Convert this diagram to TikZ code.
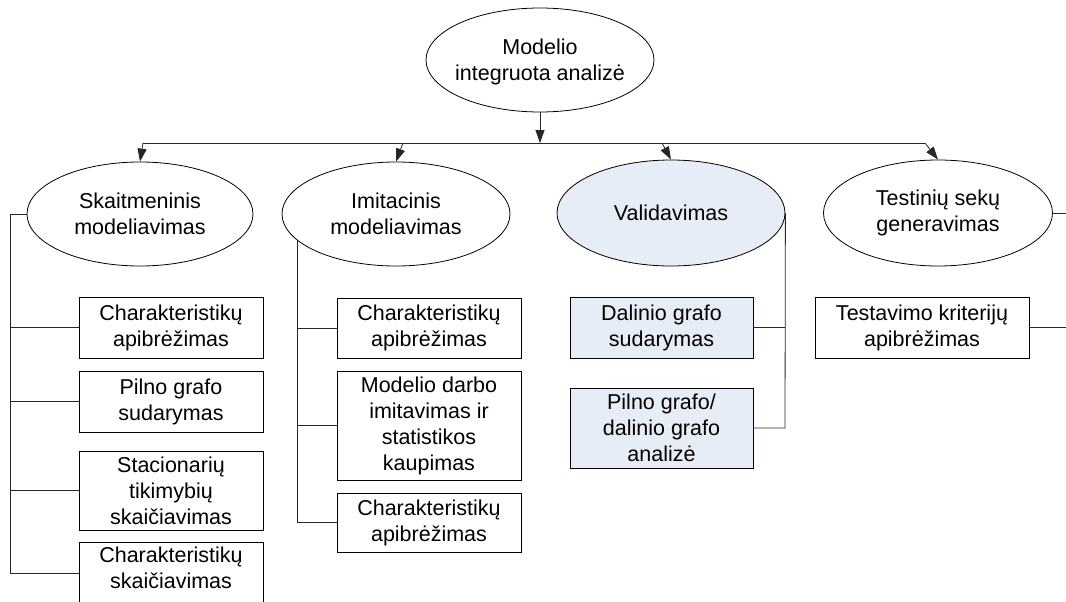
\documentclass[tikz,border=0pt]{standalone}
\usepackage{fontspec}
\setmainfont{Liberation Sans}
\usetikzlibrary{shapes.geometric,arrows.meta}
\definecolor{paleblue}{RGB}{230,237,247}
\tikzset{
  ell/.style={draw, ellipse, line width=0.8pt, inner sep=0pt},
  lbl/.style={align=center, font=\fontsize{21.5}{26}\selectfont, inner sep=0pt},
  boxed/.style={draw, rectangle, line width=0.8pt, inner sep=0pt, align=center,
                font=\fontsize{21.5}{26}\selectfont},
  wire/.style={line width=0.8pt, draw=black!85},
  feed/.style={wire, -{Triangle[length=13pt,width=9pt]}},
}
\begin{document}
\begin{tikzpicture}[x=1pt,y=-1pt]
\useasboundingbox (0,0) rectangle (1066,602);
\clip (0,0) rectangle (1066,602);

% root and the four branches
\node[ell, minimum width=228, minimum height=104] (root) at (540,60) {};
\node[lbl] (rootT) at (540,62) {Modelio\\integruota analizė};

\node[ell, minimum width=226, minimum height=104] (sk) at (140,214) {};
\node[lbl] (skT) at (sk) {Skaitmeninis\\modeliavimas};

\node[ell, minimum width=228, minimum height=104] (im) at (396,214) {};
\node[lbl] (imT) at (im) {Imitacinis\\modeliavimas};

\node[ell, fill=paleblue, minimum width=228, minimum height=106] (va) at (671,213) {};
\node[lbl] (vaT) at (va) {Validavimas};

\node[ell, minimum width=229, minimum height=106] (te) at (938,213) {};
\node[lbl] (teT) at (te) {Testinių sekų\\generavimas};

% distribution bus
\coordinate (b0) at (540,143);
\coordinate (b1) at (143,143);
\coordinate (b2) at (403,143);
\coordinate (b3) at (662,143);
\coordinate (b4) at (925,143);
\draw[feed] (root.south) -- (b0);
\draw[wire] (b1) -- (b4);
\draw[feed] (b1) -- (sk.north);
\draw[feed] (b2) -- (im.north);
\draw[feed] (b3) -- (va.north);
\draw[feed] (b4) -- (te.north);

% numerical modelling steps
\node[boxed, minimum width=184, minimum height=61] (s1) at (171,327.5) {Charakteristikų\\apibrėžimas};
\node[boxed, minimum width=184, minimum height=61] (s2) at (171,401.5) {Pilno grafo\\sudarymas};
\node[boxed, minimum width=184, minimum height=79] (s3) at (171,490.5) {Stacionarių\\tikimybių\\skaičiavimas};
\node[boxed, minimum width=184, minimum height=62] (s4) at (171,573) {};
\node[lbl, anchor=north] (s4T) at (171,547) {Charakteristikų\\skaičiavimas};
\draw[wire] (sk.west) -- (10,214) -- (10,573) -- (s4.west);
\draw[wire] (10,327.5) -- (s1.west);
\draw[wire] (10,401.5) -- (s2.west);
\draw[wire] (10,490.5) -- (s3.west);

% simulation steps
\node[boxed, minimum width=184, minimum height=60] (i1) at (429,328) {Charakteristikų\\apibrėžimas};
\node[boxed, minimum width=184, minimum height=109] (i2) at (429,425.5) {Modelio darbo\\imitavimas ir\\statistikos\\kaupimas};
\node[boxed, minimum width=184, minimum height=59] (i3) at (429,522.5) {Charakteristikų\\apibrėžimas};
\coordinate (imTap) at (297,240);
\draw[wire] (imTap) -- (297,522.5) -- (i3.west);
\draw[wire] (297,328) -- (i1.west);
\draw[wire] (297,425.5) -- (i2.west);

% validation steps
\node[boxed, fill=paleblue, minimum width=183, minimum height=61] (v1) at (661.5,327.5) {Dalinio grafo\\sudarymas};
\node[boxed, fill=paleblue, minimum width=183, minimum height=80] (v2) at (661.5,428) {Pilno grafo/\\dalinio grafo\\analizė};
\draw[wire] (va.east) -- (785,428) -- (v2.east);
\draw[wire] (785,327.5) -- (v1.east);

% test sequence generation
\node[boxed, minimum width=214, minimum height=61] (t1) at (922,327.5) {Testavimo kriterijų\\apibrėžimas};
\coordinate (teOut) at (1070,213);
\coordinate (t1Out) at (1070,327.5);
\draw[wire] (te.east) -- (teOut);
\draw[wire] (t1.east) -- (t1Out);
\end{tikzpicture}
\end{document}
